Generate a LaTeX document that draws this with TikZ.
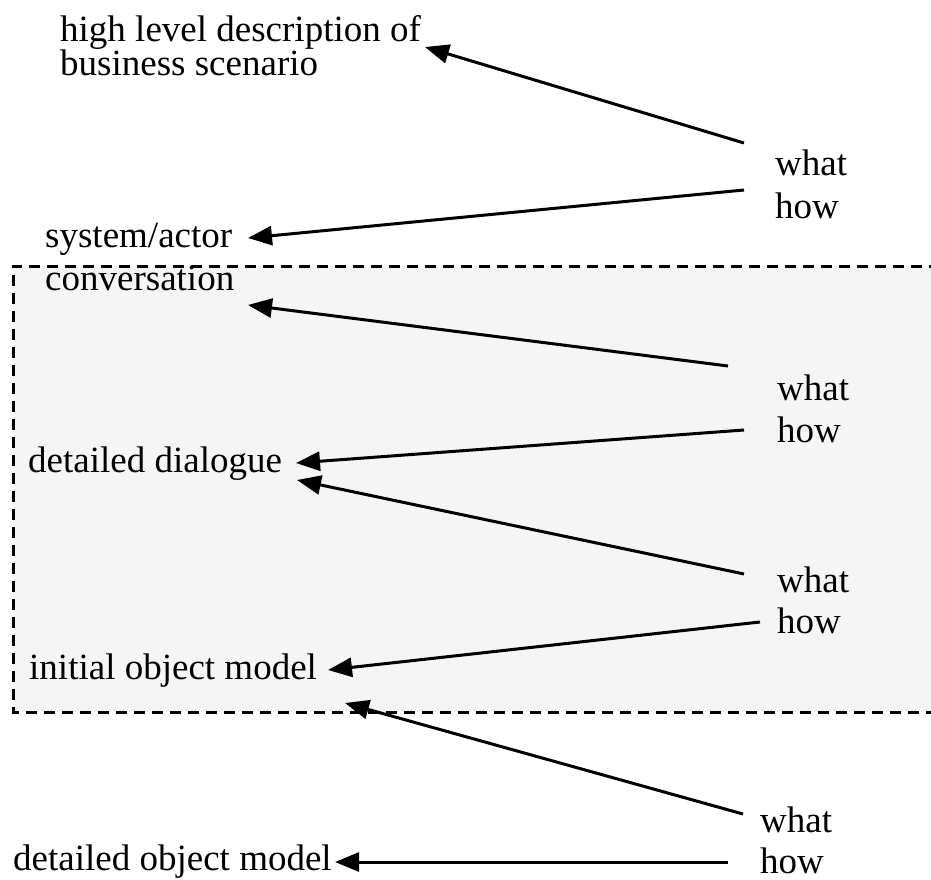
\documentclass[tikz,border=0pt]{standalone}
\usepackage{fontspec}
\setmainfont{Liberation Serif}
\usetikzlibrary{arrows.meta}
\tikzset{
  lbl/.style={anchor=base west, inner sep=0pt, font=\fontsize{37}{44}\selectfont},
  conn/.style={line width=3pt, -{Triangle[length=24pt,width=19pt]}},
  region/.style={line width=3pt, dash pattern=on 11pt off 7pt},
}
\begin{document}
\begin{tikzpicture}[x=1pt,y=-1pt]
\useasboundingbox (0,0) rectangle (931,880);
% shaded region
\fill[black!4] (13,266) rectangle (940,712);
\draw[region] (940,266) -- (13,266) -- (13,712) -- (940,712);
% texts
\node[lbl] (hl1) at (60,42) {high level description of};
\node[lbl] (hl2) at (60,76) {business scenario};
\node[lbl] (what1) at (775,175) {what};
\node[lbl] (how1) at (775,218) {how};
\node[lbl] (sa1) at (45,247) {system/actor};
\node[lbl] (sa2) at (45,290) {conversation};
\node[lbl] (what2) at (777,400) {what};
\node[lbl] (how2) at (777,442) {how};
\node[lbl] (dd) at (28,472) {detailed dialogue};
\node[lbl] (what3) at (777,592) {what};
\node[lbl] (how3) at (777,633) {how};
\node[lbl] (iom) at (29,679) {initial object model};
\node[lbl] (what4) at (760,832) {what};
\node[lbl] (how4) at (760,873) {how};
\node[lbl] (dom) at (13,870) {detailed object model};
% connector endpoints
\coordinate (t1) at (744,143); \coordinate (h1) at (425,47);
\coordinate (t2) at (744,190); \coordinate (h2) at (248,238);
\coordinate (t3) at (728,366); \coordinate (h3) at (248,305);
\coordinate (t4) at (744,430); \coordinate (h4) at (296,463);
\coordinate (t5) at (744,574); \coordinate (h5) at (297,480);
\coordinate (t6) at (760,622); \coordinate (h6) at (328,670);
\coordinate (t7) at (743,814); \coordinate (h7) at (345,703);
\coordinate (t8) at (728,862); \coordinate (h8) at (335,862);
\foreach \i in {1,...,8} { \draw[conn] (t\i) -- (h\i); }
\end{tikzpicture}
\end{document}
